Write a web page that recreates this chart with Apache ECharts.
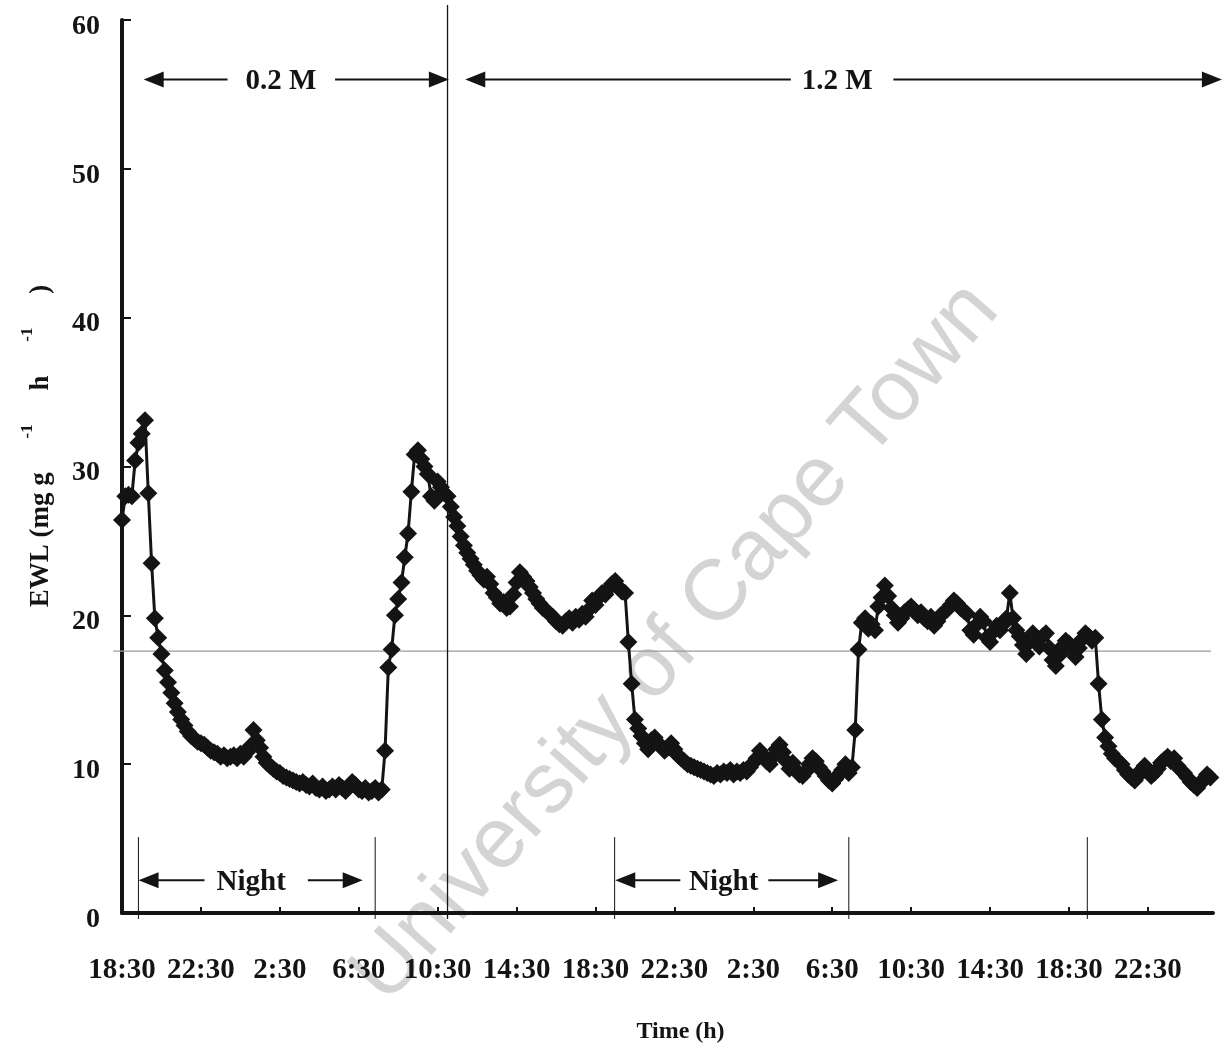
<!DOCTYPE html>
<html><head><meta charset="utf-8">
<script src="https://cdn.jsdelivr.net/npm/echarts@6/dist/echarts.min.js"></script>
<style>html,body{margin:0;padding:0;background:#fff}#c{width:1226px;height:1057px}</style>
</head><body><div id="c"></div>
<script>
// ---- data ----
const stepMinutes = 10;           // sampling step, first sample at 18:30
const tickLabels = ['18:30','22:30','2:30','6:30','10:30','14:30','18:30','22:30','2:30','6:30','10:30','14:30','18:30','22:30'];
const tickStepHours = 4;
const ewl = [
 26.4,28.0,28.1,28.0,30.4,31.6,
 32.2,33.1,28.2,23.5,19.8,18.5,
 17.4,16.3,15.5,14.8,14.1,13.5,
 13.0,12.6,12.2,11.9,11.7,11.5,
 11.4,11.3,11.1,10.9,10.8,10.7,
 10.5,10.6,10.4,10.5,10.6,10.4,
 10.7,10.5,10.8,11.2,12.3,11.6,
 11.1,10.5,10.1,9.9,9.7,9.5,
 9.4,9.2,9.1,9.0,8.9,8.8,
 8.7,8.8,8.6,8.5,8.7,8.4,
 8.3,8.5,8.2,8.3,8.5,8.3,
 8.6,8.4,8.2,8.5,8.8,8.6,
 8.3,8.2,8.4,8.1,8.2,8.4,
 8.1,8.3,10.9,16.5,17.7,20.0,
 21.1,22.2,23.9,25.5,28.3,30.8,
 31.1,30.5,30.0,29.5,28.0,27.7,
 29.0,28.6,28.2,28.0,27.3,26.6,
 26.0,25.3,24.7,24.2,23.8,23.4,
 23.0,22.7,22.4,22.6,22.1,21.5,
 21.2,20.8,20.9,20.5,20.6,21.4,
 22.2,22.9,22.6,22.3,21.9,21.5,
 21.1,20.8,20.5,20.3,20.1,19.9,
 19.6,19.4,19.3,19.6,19.8,19.5,
 19.9,19.7,20.1,19.9,20.4,21.0,
 20.7,21.2,21.5,21.4,21.8,22.1,
 22.3,21.9,21.6,21.5,18.2,15.4,
 13.0,12.4,11.9,11.4,11.0,11.6,
 11.8,11.4,11.2,10.9,11.1,11.4,
 11.0,10.6,10.4,10.2,10.0,9.9,
 9.8,9.7,9.6,9.5,9.4,9.3,
 9.2,9.4,9.3,9.5,9.4,9.6,
 9.3,9.5,9.4,9.6,9.5,9.8,
 10.1,10.4,10.9,10.6,10.2,10.0,
 10.5,11.0,11.3,10.8,10.2,9.7,
 10.1,9.6,9.3,9.2,9.5,10.0,
 10.4,10.2,9.8,9.5,9.2,8.9,
 8.7,9.0,9.3,9.6,10.0,9.4,
 9.8,12.3,17.7,19.5,19.8,19.1,
 19.4,19.0,20.6,21.2,22.0,21.3,
 20.5,20.0,19.5,19.8,20.2,20.4,
 20.6,20.3,20.0,20.2,19.8,19.6,
 19.9,19.3,19.6,20.0,20.2,20.4,
 20.7,21.0,20.8,20.5,20.3,20.1,
 19.0,18.7,19.4,19.9,19.6,18.5,
 18.2,18.9,19.3,19.0,19.4,19.8,
 21.5,19.8,19.0,18.6,18.0,17.4,
 18.2,18.8,18.4,17.9,18.6,18.8,
 17.8,17.0,16.6,17.3,17.9,18.3,
 18.1,17.6,17.2,17.8,18.4,18.8,
 18.6,18.3,18.5,15.4,13.0,11.8,
 11.2,10.7,10.4,10.2,10.0,9.6,
 9.3,9.1,8.9,9.2,9.6,9.9,
 9.5,9.2,9.4,9.7,10.1,10.3,
 10.5,10.2,10.4,9.9,9.6,9.4,
 9.1,8.8,8.6,8.4,8.7,9.0,
 9.3,9.1
];
// event times (hours after 18:30)
const nightPeriods = [[0.833, 12.833], [24.97, 36.84]];
const salinitySwitch = 16.5;
const extraMarker = 48.93;
const refLevel = 17.6;

// ---- chart ----
const serif = "'Liberation Serif','Times New Roman',serif";
const ink = '#141414';
const points = ewl.map((v, i) => [i * stepMinutes / 60, v]);
const tickVals = tickLabels.map((_, i) => i * tickStepHours);

const chart = echarts.init(document.getElementById('c'));
chart.setOption({
  animation: false,
  backgroundColor: '#fff',
  grid: {left: 122, right: 13, top: 20, bottom: 144, containLabel: false},
  xAxis: {
    type: 'value', min: 0, max: 55.3,
    splitLine: {show: false},
    axisLine: {lineStyle: {color: ink, width: 4}},
    axisTick: {inside: true, length: 6, lineStyle: {color: ink, width: 2}, customValues: tickVals},
    axisLabel: {customValues: tickVals, margin: 43, color: ink,
      fontFamily: serif, fontWeight: 'bold', fontSize: 29,
      formatter: v => { const i = Math.round(v / tickStepHours); return tickLabels[i] || ''; }},
    name: 'Time (h)', nameLocation: 'middle', nameGap: 107,
    nameTextStyle: {fontFamily: serif, fontWeight: 'bold', fontSize: 24, color: ink, padding: [0, 0, 0, 26]}
  },
  yAxis: {
    type: 'value', min: 0, max: 60, interval: 10,
    splitLine: {show: false},
    axisLine: {lineStyle: {color: ink, width: 4}},
    axisTick: {inside: true, length: 9, lineStyle: {color: ink, width: 2}},
    axisLabel: {margin: 22, formatter: v => '{t|' + v + '}',
      rich: {t: {color: ink, fontFamily: serif, fontWeight: 'bold', fontSize: 28, padding: [13, 0, 0, 0]}}}
  },
  series: [{
    type: 'line', data: points, clip: false,
    symbol: 'diamond', symbolSize: 18, showAllSymbol: true,
    itemStyle: {color: ink},
    lineStyle: {color: ink, width: 3},
    z: 5
  }]
});

const px = (x, y) => chart.convertToPixel({gridIndex: 0}, [x, y]);
const g = [];
// watermark
g.push({type: 'text', x: 676, y: 643, rotation: 48.5 * Math.PI / 180, z: 0, silent: true,
  style: {text: 'University of Cape Town', font: "86px 'Liberation Sans', Arial, sans-serif",
    fill: '#d4d4d4', align: 'center', verticalAlign: 'middle'}});
// reference level line
(function(){ const a = px(-0.45, refLevel), b = px(55.2, refLevel);
  g.push({type: 'line', z: 1, shape: {x1: a[0], y1: a[1], x2: b[0], y2: b[1]}, style: {stroke: '#9a9a9a', lineWidth: 1.2}}); })();
// vertical event lines
function vline(x, y0, y1, w) { const a = px(x, y0), b = px(x, y1);
  g.push({type: 'line', z: 2, shape: {x1: a[0], y1: a[1], x2: b[0], y2: b[1]}, style: {stroke: ink, lineWidth: w}}); }
vline(salinitySwitch, 61, -0.4, 1.3);
nightPeriods.forEach(p => { vline(p[0], 5.1, -0.4, 1); vline(p[1], 5.1, -0.4, 1); });
vline(extraMarker, 5.1, -0.4, 1);
// double arrows with labels
const arrows = [
  {text: '0.2 M', y: 56, from: 1.1, to: 16.57, at: 8.05, gapL: 5.35, gapR: 10.8, size: 29},
  {text: '1.2 M', y: 56, from: 17.4, to: 55.75, at: 36.25, gapL: 33.9, gapR: 39.1, size: 29},
  {text: 'Night', y: 2.2, from: 0.84, to: 12.2, at: 6.55, gapL: 4.18, gapR: 9.42, size: 29},
  {text: 'Night', y: 2.2, from: 25.0, to: 36.3, at: 30.5, gapL: 28.3, gapR: 32.76, size: 29}
];
arrows.forEach(a => {
  const L = px(a.from, a.y), l2 = px(a.gapL, a.y), r1 = px(a.gapR, a.y), R = px(a.to, a.y), T = px(a.at, a.y);
  g.push({type: 'line', z: 3, shape: {x1: L[0] + 12, y1: L[1], x2: l2[0], y2: l2[1]}, style: {stroke: ink, lineWidth: 2}});
  g.push({type: 'line', z: 3, shape: {x1: r1[0], y1: r1[1], x2: R[0] - 12, y2: R[1]}, style: {stroke: ink, lineWidth: 2}});
  g.push({type: 'polygon', z: 3, shape: {points: [[L[0], L[1]], [L[0] + 20, L[1] - 8], [L[0] + 20, L[1] + 8]]}, style: {fill: ink}});
  g.push({type: 'polygon', z: 3, shape: {points: [[R[0], R[1]], [R[0] - 20, R[1] - 8], [R[0] - 20, R[1] + 8]]}, style: {fill: ink}});
  g.push({type: 'text', z: 3, x: T[0], y: T[1] + 2, style: {text: a.text, font: `bold ${a.size}px ${serif}`, fill: ink, align: 'center', verticalAlign: 'middle'}});
});
// y axis title with superscripts
g.push({type: 'text', x: 37, y: 446, rotation: Math.PI / 2, z: 3,
  style: {text: '{b|EWL (mg g     }{s|-1}{b|     h     }{s|-1}{b|     )}', align: 'center', verticalAlign: 'middle',
    rich: {b: {font: `bold 27px ${serif}`, fill: ink, lineHeight: 35, verticalAlign: 'bottom'},
           s: {font: `bold 17px ${serif}`, fill: ink, lineHeight: 35, verticalAlign: 'top'}}}});
chart.setOption({graphic: {elements: g}});
</script>
</body></html>
